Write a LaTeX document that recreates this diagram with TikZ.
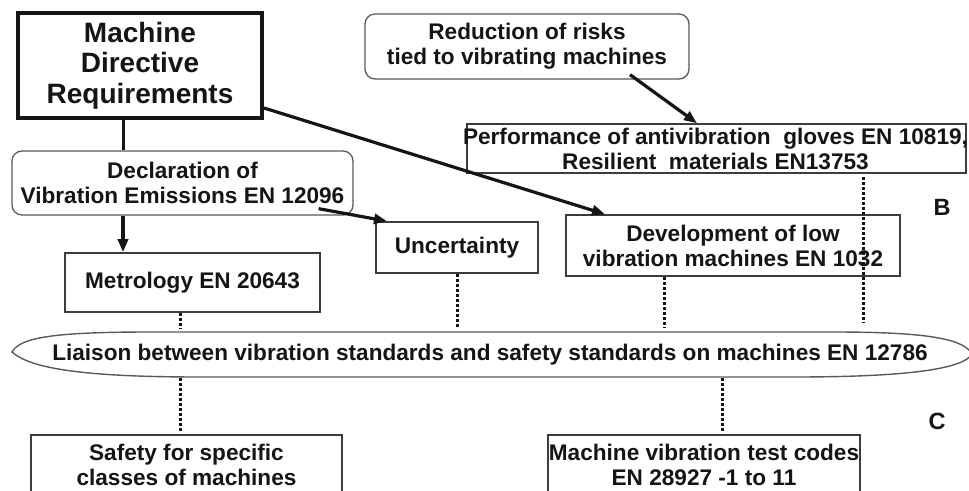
\documentclass[tikz,border=0pt]{standalone}
\usepackage{fontspec}
\setmainfont{Liberation Sans}
\usetikzlibrary{arrows.meta,calc}
\definecolor{ink}{HTML}{151515}
\definecolor{edge}{HTML}{3C3C3C}
\definecolor{soft}{HTML}{5A5A5A}
\begin{document}
\begin{tikzpicture}[x=1pt,y=-1pt,
  txt/.style={font=\bfseries\fontsize{22.6}{25}\selectfont, text=ink, align=center, inner sep=0pt},
  rbox/.style={txt, draw=edge, line width=1.6pt},
  roundbox/.style={txt, draw=soft, line width=1.3pt, rounded corners=10pt},
  arr/.style={line width=3.2pt, draw=ink, -{Triangle[length=13pt,width=10pt]}},
  solidline/.style={line width=3pt, draw=ink},
  dotline/.style={line width=3pt, draw=ink, dash pattern=on 3pt off 2pt},
  letter/.style={txt, font=\bfseries\fontsize{23.5}{24}\selectfont},
]
\useasboundingbox (0,0) rectangle (969,490);
\clip (0,0) rectangle (969,490);
\fill[white] (0,0) rectangle (969,490);

% nodes
\node[txt, draw=ink, line width=4pt, font=\bfseries\fontsize{28}{30.5}\selectfont,
      minimum width=244pt, minimum height=105pt] (mdr) at (140,65.5) {Machine\\Directive\\Requirements};
\node[roundbox, minimum width=341pt, minimum height=64pt] (decl) at (182.5,183) {Declaration of\\Vibration Emissions EN 12096};
\node[roundbox, minimum width=324pt, minimum height=65pt] (red) at (527,46.5) {Reduction of risks\\tied to vibrating machines};
\node[rbox, minimum width=499pt, minimum height=49pt] (perf) at (716.5,148.5) {};
\node[txt] (perft) at (715.5,149) {Performance of antivibration\ \ gloves EN 10819,\\Resilient\ \ materials EN13753};
\node[rbox, minimum width=255pt, minimum height=59pt] (met) at (192.5,282.5) {Metrology EN 20643};
\node[rbox, minimum width=162pt, minimum height=51pt] (unc) at (457,247.5) {Uncertainty};
\node[rbox, minimum width=334pt, minimum height=61pt] (dev) at (733,245.5) {Development of low\\vibration machines EN 1032};
\node[txt, minimum width=958pt, minimum height=45pt] (liai) at (490,355) {Liaison between vibration standards and safety standards on machines EN 12786};
\node[rbox, minimum width=311pt, minimum height=60pt] (safe) at (186.5,465) {Safety for specific\\classes of machines};
\node[rbox, minimum width=312pt, minimum height=60pt] (test) at (704,465) {Machine vibration test codes\\EN 28927 -1 to 11};
\node[letter] (lb) at (942,207) {B};
\node[letter] (lc) at (937,421) {C};

% outline of the liaison shape
\draw[draw=soft, line width=1.4pt]
  (12,352) .. controls (20,338) and (50,332) .. (150,332) -- (834,332)
  .. controls (934,332) and (964,340) .. (972,354)
  .. controls (964,368) and (914,377) .. (794,377) -- (200,377)
  .. controls (80,377) and (30,368) .. (12,352) -- cycle;

% connectors
\draw[solidline] (mdr.south -| 123,0) -- (decl.north -| 123,0);
\draw[arr] (decl.south -| 123,0) -- (met.north -| 123,0);
\draw[arr] (mdr.east |- 0,108) -- (dev.north -| 605,0);
\draw[arr] ($(decl.south east)+(-35,-7)$) -- (unc.north -| 387,0);
\draw[arr] ($(red.south -| 630,0)+(0,-5)$) -- (perf.north -| 697,0);

\draw[dotline] (met.south -| 180,0) -- ($(liai.north -| 180,0)+(0,-4)$);
\draw[dotline] (unc.south) -- ($(liai.north -| unc.south)+(0,-4)$);
\draw[dotline] (dev.south -| 664,0) -- ($(liai.north -| 664,0)+(0,-4)$);
\draw[dotline] ($(perf.south -| 863,0)+(0,3)$) -- ($(liai.north -| 863,0)+(0,-9)$);
\draw[dotline] (liai.south -| 180,0) -- ($(safe.north -| 180,0)+(0,-3)$);
\draw[dotline] (liai.south -| 722,0) -- ($(test.north -| 722,0)+(0,-3)$);
\end{tikzpicture}
\end{document}
